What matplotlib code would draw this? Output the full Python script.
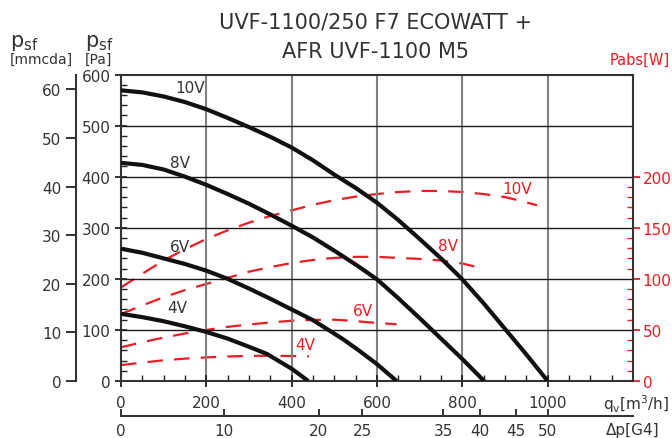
import matplotlib
matplotlib.use("Agg")
import matplotlib.pyplot as plt
import numpy as np
from matplotlib.ticker import MultipleLocator, FixedLocator

# ---------------- data ----------------
# pressure curves (qv [m3/h] -> psf [Pa])
q10 = [0, 50, 100, 150, 200, 250, 300, 350, 400, 450, 500, 550, 600, 650, 700, 750, 800, 850, 900, 950, 1000]
p10 = [569, 565, 557, 546, 532, 515, 497, 478, 457, 432, 404, 378, 349, 315, 278, 240, 199, 152, 102, 52, 0]
q8 = [0, 50, 100, 150, 200, 250, 300, 350, 400, 450, 500, 550, 600, 650, 700, 750, 800, 851]
p8 = [427, 423, 414, 400, 384, 366, 347, 326, 304, 281, 255, 228, 199, 162, 123, 83, 43, 0]
q6 = [0, 50, 100, 150, 200, 250, 300, 350, 400, 450, 490, 520, 553, 600, 646]
p6 = [259, 251, 240, 229, 216, 200, 181, 161, 140, 119, 98, 82, 62.5, 33, 0]
q4 = [0, 50, 100, 150, 200, 250, 300, 342, 370, 400, 439]
p4 = [131.5, 125, 117, 107, 96, 83, 67, 53, 39, 24, 0]

# absorbed power curves (qv -> Pabs [W])
wq10 = [0, 50, 100, 150, 200, 250, 300, 350, 400, 450, 500, 550, 600, 650, 700, 750, 800, 850, 900, 940, 975]
w10 = [91.6, 105, 118, 129, 139, 147.5, 155, 161.5, 167, 172.5, 177, 180.5, 183, 185, 186, 186, 185, 183, 180, 176, 172]
wq8 = [0, 50, 100, 150, 200, 250, 300, 350, 400, 450, 500, 550, 600, 650, 700, 750, 800, 830]
w8 = [65.5, 74, 82, 89, 95, 101, 107, 111.5, 115.5, 118.5, 120.5, 121.5, 121.5, 120.5, 119.5, 118, 115, 112]
wq6 = [0, 50, 100, 150, 200, 250, 300, 350, 400, 450, 500, 540, 580, 646]
w6 = [33, 38, 42.5, 46.5, 50, 53, 55.3, 57.3, 59, 59.8, 60, 59, 57.5, 55.5]
wq4 = [0, 50, 100, 150, 200, 250, 300, 350, 400, 441]
w4 = [15.6, 18, 20.3, 21.9, 23.1, 24, 24.6, 24.7, 24.5, 24.1]

curve_labels = ["10V", "8V", "6V", "4V"]

# secondary bottom scale (pressure drop G4) : label -> qv position
dp_labels = ["0", "10", "20", "25", "35", "40", "45", "50"]
dp_qv = [0, 242, 463, 565, 755, 842, 926, 1000]

RED = "#ec1c24"
TXT = "#333333"

plt.rcParams['font.family'] = ['DejaVu Sans']

fig = plt.figure(figsize=(6.72, 4.39), dpi=100)
ax = fig.add_axes([121/672, 1-382/439, 512/672, 306.5/439])

# grid
for x in [200, 400, 600, 800, 1000]:
    ax.axvline(x, color="#808080", lw=1.5, zorder=1)
for y in [100, 200, 300, 400, 500]:
    ax.axhline(y, color="#1a1a1a", lw=1.0, zorder=1)

ax.set_xlim(0, 1200)
ax.set_ylim(0, 600)

# power axis (right)
axw = ax.twinx()
axw.set_ylim(0, 300)

dash = (7, 5)
for qq, ww in [(wq10, w10), (wq8, w8), (wq6, w6), (wq4, w4)]:
    axw.plot(qq, ww, color=RED, lw=1.6, dashes=dash, zorder=2)

for qq, pp in [(q10, p10), (q8, p8), (q6, p6), (q4, p4)]:
    ax.plot(qq, pp, color="#111111", lw=3.0, solid_capstyle="butt",
            solid_joinstyle="round", zorder=3)
ax.set_zorder(axw.get_zorder() + 1)
ax.patch.set_visible(False)

# labels on curves
blk_pos = [(162, 574), (138, 428), (138, 264), (131, 144)]
for t, (x, y) in zip(curve_labels, blk_pos):
    ax.text(x, y, t, color=TXT, fontsize=11, ha="center", va="center")
red_pos = [(928, 188.6), (767, 133), (568, 68.7), (432, 36)]
for t, (x, y) in zip(curve_labels, red_pos):
    axw.text(x, y, t, color=RED, fontsize=11, ha="center", va="center")

# main axis ticks
ax.xaxis.set_major_locator(FixedLocator([0, 200, 400, 600, 800, 1000]))
ax.xaxis.set_minor_locator(FixedLocator(np.arange(50, 1200, 50)))
ax.yaxis.set_major_locator(MultipleLocator(100))
ax.yaxis.set_minor_locator(MultipleLocator(20))
ax.tick_params(axis="both", which="major", direction="inout", length=8, width=1.3,
               colors="#222222", labelcolor=TXT, labelsize=11)
ax.tick_params(axis="both", which="minor", direction="in", length=4, width=1.0, colors="#222222")
ax.tick_params(axis="x", which="major", pad=6)
for s in ax.spines.values():
    s.set_color("#333333")
    s.set_linewidth(1.5)

# right axis ticks
axw.yaxis.set_major_locator(FixedLocator([0, 50, 100, 150, 200]))
axw.yaxis.set_minor_locator(FixedLocator(np.arange(10, 200, 10)))
axw.tick_params(axis="y", which="major", direction="out", length=5, width=1.3,
                colors=RED, labelcolor=RED, labelsize=11, pad=2)
axw.tick_params(axis="y", which="minor", direction="in", length=4, width=1.0, colors=RED)
for s in axw.spines.values():
    s.set_visible(False)

# left outer axis [mmcda]
axm = fig.add_axes(ax.get_position())
axm.patch.set_visible(False)
axm.set_ylim(0, 63.08)
axm.set_xticks([])
for k in ["top", "right", "bottom"]:
    axm.spines[k].set_visible(False)
axm.spines["left"].set_position(("axes", (76-121)/512))
axm.spines["left"].set_color("#333333")
axm.spines["left"].set_linewidth(1.5)
axm.yaxis.set_major_locator(MultipleLocator(10))
axm.tick_params(axis="y", direction="out", length=7, width=1.3, colors="#222222",
                labelcolor=TXT, labelsize=11)
axm.set_ylim(0, 63.08)

# bottom secondary axis (dp G4)
sec = ax.secondary_xaxis(-35/306.5)
sec.set_xticks(dp_qv)
sec.set_xticklabels(dp_labels)
sec.tick_params(axis="x", direction="in", length=5, width=1.3, colors="#222222",
                labelcolor=TXT, labelsize=11, pad=5)
sec.spines["bottom"].set_color("#333333")
sec.spines["bottom"].set_linewidth(1.5)

# texts
fig.text(376/672, 1-22/439, "UVF-1100/250 F7 ECOWATT +", ha="center", va="center",
         fontsize=15, color="#333333")
fig.text(376/672, 1-52/439, "AFR UVF-1100 M5", ha="center", va="center",
         fontsize=15, color="#333333")
fig.text(670/672, 1-60/439, "Pabs[W]", ha="right", va="center", fontsize=10.5, color=RED)

fig.text(10/672, 1-43/439, r"$\mathregular{p_{sf}}$", ha="left", va="center", fontsize=15, color=TXT)
fig.text(10/672, 1-60/439, "[mmcda]", ha="left", va="center", fontsize=10, color=TXT)
fig.text(85/672, 1-43/439, r"$\mathregular{p_{sf}}$", ha="left", va="center", fontsize=15, color=TXT)
fig.text(85/672, 1-60/439, "[Pa]", ha="left", va="center", fontsize=10, color=TXT)

fig.text(669/672, 1-404/439, r"$\mathregular{q_{v}}$[m$^3$/h]", ha="right", va="center",
         fontsize=11, color=TXT)
fig.text(660/672, 1-431/439, "Δp[G4]", ha="right", va="center", fontsize=11, color=TXT)

fig.savefig("out.png", dpi=100)
